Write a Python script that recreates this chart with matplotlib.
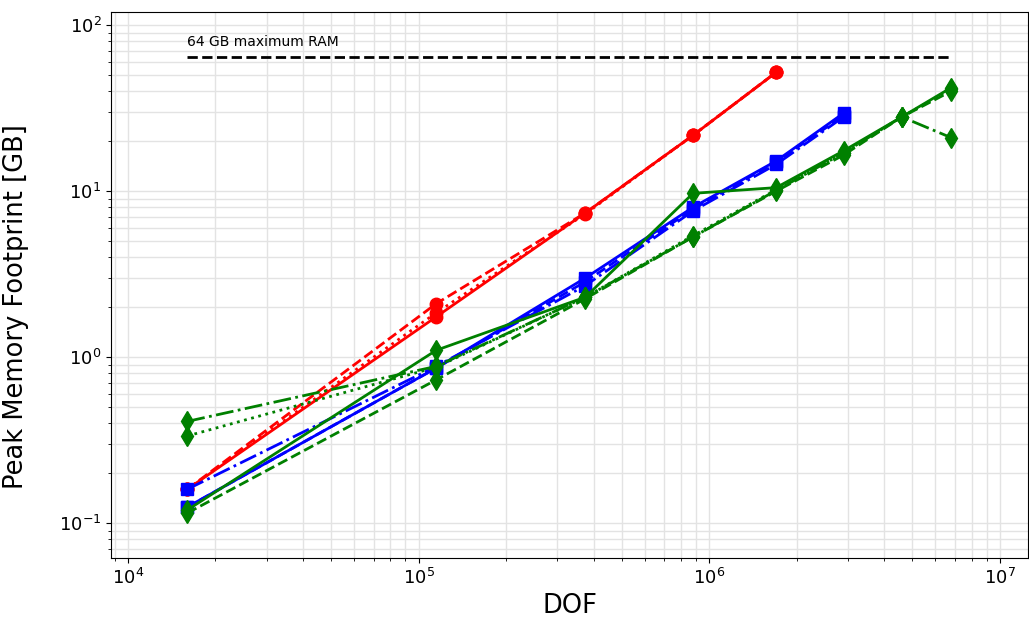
import matplotlib
matplotlib.use("Agg")
import matplotlib.pyplot as plt

dof = [1.6e4, 1.15e5, 3.75e5, 8.8e5, 1.7e6, 2.9e6, 4.6e6, 6.8e6]

red_solid = [0.16, 1.75, 7.4, 21.7, 52]
red_dashed = [0.16, 2.1, 7.4, 21.7, 52]
red_dotted = [0.16, 1.85, 7.3, 21.7, 52]

blue_solid = [0.125, 0.86, 3.0, 8.0, 15.2, 29.5]
blue_dashed = [0.125, 0.86, 2.85, 7.8, 15.0, 28.5]
blue_dashdot = [0.16, 0.88, 2.7, 7.6, 14.5, 28.0]

green_solid = [0.12, 1.1, 2.3, 9.7, 10.5, 17.5, 28, 42]
green_dashed = [0.115, 0.73, 2.25, 5.3, 10.0, 16.5, 28, 40]
green_dotted = [0.335, 0.87, 2.3, 5.4, 10.2, 17.0, 28, 41]
green_dashdot = [0.41, 0.88, 2.3, 5.3, 10.1, 17.0, 28, 21]

ram_limit = 64
ram_label = "64 GB maximum RAM"

fig = plt.figure(figsize=(10.29, 6.32), dpi=100)
ax = fig.add_axes([0.108, 0.117, 0.891, 0.864])

lw = 2
ms = 9
ax.plot(dof[:5], red_solid, '-', color='red', marker='o', ms=ms, lw=lw)
ax.plot(dof[:5], red_dashed, '--', color='red', marker='o', ms=ms, lw=lw)
ax.plot(dof[:5], red_dotted, ':', color='red', marker='o', ms=ms, lw=lw)

ax.plot(dof[:6], blue_solid, '-', color='blue', marker='s', ms=ms, lw=lw)
ax.plot(dof[:6], blue_dashed, '--', color='blue', marker='s', ms=ms, lw=lw)
ax.plot(dof[:6], blue_dashdot, '-.', color='blue', marker='s', ms=ms, lw=lw)

ax.plot(dof, green_solid, '-', color='green', marker='d', ms=10, lw=lw)
ax.plot(dof, green_dashed, '--', color='green', marker='d', ms=10, lw=lw)
ax.plot(dof, green_dotted, ':', color='green', marker='d', ms=10, lw=lw)
ax.plot(dof, green_dashdot, '-.', color='green', marker='d', ms=10, lw=lw)

ax.plot([dof[0], dof[-1]], [ram_limit, ram_limit], '--', color='black', lw=2)
ax.text(dof[0], ram_limit * 1.12, ram_label, fontsize=10, ha='left', va='bottom')

ax.set_xscale('log')
ax.set_yscale('log')
ax.set_xlim(8750, 1.25e7)
ax.set_ylim(0.0616, 120)
ax.grid(True, which='both', color='#e3e3e3', lw=1)
ax.set_axisbelow(True)
ax.tick_params(labelsize=13)
ax.set_xlabel('DOF', fontsize=18.5)
ax.set_ylabel('Peak Memory Footprint [GB]', fontsize=18.5)
ax.yaxis.set_label_coords(-0.09, 0.46)

fig.savefig('out.png', dpi=100)
